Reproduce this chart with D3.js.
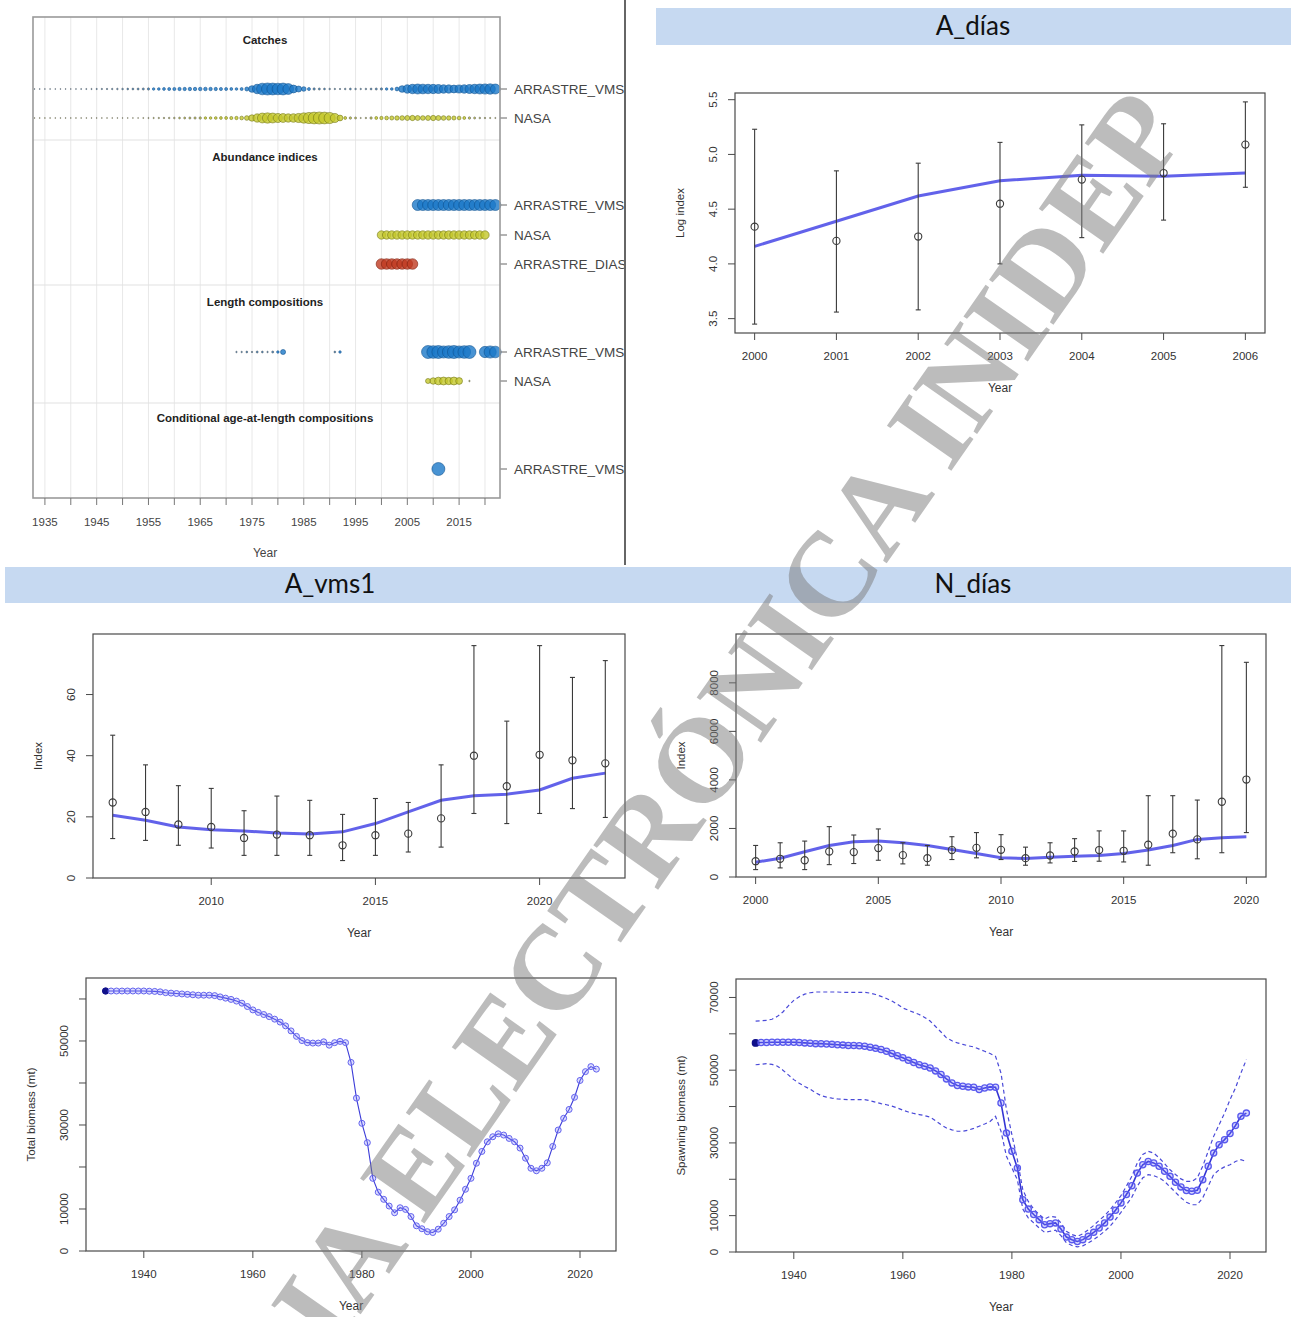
<!DOCTYPE html>
<html><head><meta charset="utf-8">
<script src="https://cdn.jsdelivr.net/npm/d3@7"></script>
<style>body{margin:0;background:#fff}svg{display:block}</style>
</head><body>
<script>
// ---------------- data ----------------
const fleetNames = ["ARRASTRE_VMS", "NASA", "ARRASTRE_DIAS"];
const fleetFill = ["#1a78c8", "#c4c82a", "#bf3a20"];
const fleetStroke = ["#0e4f8c", "#6e7212", "#7a1d0c"];

// catches by year (t)
const catchYears = d3.range(1933, 2023);
const catchVMS = [5,8,10,12,15,20,25,
  40,50,60,70,80,90,100,110,120,140,
  160,180,200,230,260,300,350,400,450,500,
  550,600,600,650,650,700,700,650,600,550,
  500,450,400,500,900,2500,5000,7500,8000,7800,
  7500,7800,6500,3500,2000,1200,500,300,250,200,
  150,120,100,150,200,150,120,150,200,250,
  300,350,400,800,2500,4000,5000,5500,5200,5000,
  4800,4500,4000,3800,3500,3600,4000,4500,5000,5500,
  5800,6000,5500];
const catchNASA = [2,2,3,3,3,4,4,
  5,5,6,6,7,8,8,10,10,12,
  15,20,25,30,40,50,60,70,80,90,
  100,120,140,160,180,200,220,240,260,280,
  300,350,400,500,800,1500,2500,3500,3800,3500,
  3000,2800,2500,2600,3000,3800,4500,5000,5200,5000,
  4500,3000,1200,300,200,150,50,80,200,300,
  400,500,600,700,800,900,1000,900,800,900,
  1000,900,800,700,600,500,300,200,150,100,
  80,60,50];

// years with abundance indices per fleet
const indexYearsVMS = d3.range(2007, 2023);
const indexYearsNASA = d3.range(2000, 2021);
const indexYearsDIAS = d3.range(2000, 2007);

// length compositions (sample sizes)
const lenYearsVMS = [1972,1973,1974,1975,1976,1977,1978,1979,1980,1981,1991,1992,
  2009,2010,2011,2012,2013,2014,2015,2016,2017,2020,2021,2022];
const lenNVMS = [5,5,8,5,10,8,5,10,15,60,8,15,
  400,380,400,350,380,400,350,380,400,300,350,320];
const lenYearsNASA = [2009,2010,2011,2012,2013,2014,2015,2017];
const lenNNASA = [60,100,140,150,130,150,110,5];

// conditional age-at-length
const caalYearsVMS = [2011];
const caalNVMS = [400];

// A_días (log index)
const adYears = d3.range(2000, 2007);
const adObs = [4.34, 4.21, 4.25, 4.55, 4.77, 4.83, 5.09];
const adLo  = [3.45, 3.56, 3.58, 4.00, 4.24, 4.40, 4.70];
const adHi  = [5.23, 4.85, 4.92, 5.11, 5.27, 5.28, 5.48];
const adFit = [4.16, 4.39, 4.62, 4.76, 4.81, 4.80, 4.83];

// A_vms1
const avYears = d3.range(2007, 2023);
const avObs = [24.7,21.6,17.5,16.7,13.1,14.2,14.0,10.7,14.0,14.5,19.5,40.0,30.0,40.3,38.5,37.5];
const avLo  = [12.9,12.3,10.7,9.8,7.4,7.4,7.4,5.7,7.4,8.5,10.1,21.1,17.8,21.1,22.7,19.8];
const avHi  = [46.7,37.0,30.2,29.3,22.0,26.8,25.4,20.8,26.0,24.7,37.0,76.0,51.3,76.0,65.6,71.1];
const avFit = [20.5,18.9,16.7,15.8,15.4,14.7,14.4,15.1,17.8,21.6,25.4,26.9,27.4,28.8,32.6,34.3];

// N_días
const ndYears = d3.range(2000, 2021);
const ndObs = [650,750,690,1050,1025,1190,900,775,1110,1200,1120,775,885,1050,1110,1080,1330,1785,1550,3100,4015];
const ndLo  = [305,375,305,510,555,690,540,485,720,790,720,485,580,640,650,620,485,1000,750,1000,1830];
const ndHi  = [1300,1410,1480,2075,1730,1980,1410,1300,1660,1830,1745,1230,1410,1580,1900,1900,3350,3350,3170,9535,8845];
const ndFit = [610,775,1040,1300,1450,1480,1410,1300,1135,970,790,760,815,860,885,970,1110,1300,1550,1620,1660];

// biomass time series 1933-2023 (mt)
const bYears = d3.range(1933, 2024);
const totalBio = [61900,61900,61900,61900,61900,61900,61900,
  61900,61850,61800,61700,61500,61400,61300,61200,61100,61000,
  60900,60900,60900,60800,60500,60200,59900,59500,59000,58200,
  57400,56800,56300,55800,55200,54500,53600,52400,51100,50100,
  49600,49500,49500,49800,49000,49600,49900,49600,44900,36400,
  30400,25800,17300,14000,12300,10700,9100,10300,9900,8200,
  6000,5300,4600,4400,5200,6600,8200,9800,12100,14700,
  17300,20900,23700,26000,27200,27900,27600,26800,26000,24500,
  22100,19700,19100,19700,21000,24900,28800,31600,33700,36600,
  40600,42700,43900,43300];
const ssb = [57500,57600,57600,57700,57700,57700,57700,
  57700,57600,57500,57400,57300,57300,57200,57100,57000,56900,
  56800,56800,56700,56600,56300,56000,55700,55200,54600,54000,
  53400,52700,52100,51500,51100,50600,49800,48800,47600,46500,
  45800,45600,45400,45300,44700,45100,45400,45300,41000,32700,
  27700,23100,14400,11800,10300,8900,7500,7800,8000,6300,
  4100,3400,2900,3400,4300,5400,6600,8000,9600,11500,
  13500,15800,18200,21700,24000,24900,24500,23600,22200,20800,
  19200,17900,16900,16700,17000,19900,23600,27200,29500,30900,
  32600,34800,37300,38200];
const ssbHi = [63500,63600,63700,64000,64800,66000,67700,
  69200,70200,70900,71300,71500,71500,71500,71500,71500,71400,
  71400,71400,71400,71400,71200,70800,70300,69700,69000,68100,
  67100,66500,65900,65300,64500,63500,62000,60500,58900,58100,
  57500,57100,56700,56400,55800,55200,54600,53800,49200,39200,
  32300,25400,17100,13900,11800,10300,9100,9800,9600,8000,
  5700,4800,4300,5000,6100,7300,8700,10000,11600,13500,
  15500,18100,20800,24500,26800,27700,27200,25900,24300,22600,
  21300,20100,19400,19400,20400,23600,27700,31800,35000,38200,
  41900,45100,49200,52900];
const ssbLo = [51500,51600,51800,51600,51100,50000,48700,
  47400,46400,45500,44800,43800,43000,42600,42300,42100,42000,
  41900,41900,41900,41900,41600,41200,40800,40500,40100,39600,
  39000,38500,38100,37800,37500,37100,36100,35000,34100,33600,
  33200,33200,33500,34000,34600,35200,35900,37300,33200,26300,
  23100,19900,11800,9400,8000,6600,5400,5700,6000,4500,
  2500,1800,1400,1700,2500,3400,4500,5700,7100,8900,
  10900,13000,15100,18100,20400,21300,21000,20400,19400,17900,
  16400,14900,13700,13000,13000,14900,18100,21300,22600,23400,
  24000,24900,25400,24900];

// ---------------- drawing ----------------
const W = 1291, H = 1317;
const FONT = "'Liberation Sans', Arial, sans-serif";
const svg = d3.select("body").append("svg")
  .attr("width", W).attr("height", H)
  .style("font-family", FONT);
svg.append("rect").attr("width", W).attr("height", H).attr("fill", "#fff");

// section header bars
const headerFill = "#c6d9f1";
svg.append("rect").attr("x", 656).attr("y", 8).attr("width", 635).attr("height", 37).attr("fill", headerFill);
svg.append("rect").attr("x", 5).attr("y", 567).attr("width", 1286).attr("height", 36).attr("fill", headerFill);
const headers = [{t: "A_días", x: 973, y: 35}, {t: "A_vms1", x: 330, y: 593}, {t: "N_días", x: 973, y: 593}];
svg.selectAll("text.hdr").data(headers).join("text").attr("class", "hdr")
  .attr("x", d => d.x).attr("y", d => d.y).attr("text-anchor", "middle")
  .style("font-family", "Lato, 'Open Sans', sans-serif").style("font-size", "26px").attr("fill", "#111")
  .text(d => d.t);

// vertical divider of the top row
svg.append("line").attr("x1", 625).attr("x2", 625).attr("y1", 0).attr("y2", 565)
  .attr("stroke", "#333").attr("stroke-width", 1.5);

// ======== data availability panel ========
(function dataPanel() {
  const g = svg.append("g");
  const x = d3.scaleLinear().domain([1932.7, 2022.9]).range([33, 500]);
  const top = 17, bottom = 498;
  const clip = svg.append("clipPath").attr("id", "leftclip");
  clip.append("rect").attr("x", 0).attr("y", 0).attr("width", 624).attr("height", 565);
  g.attr("clip-path", "url(#leftclip)");

  const gridYears = d3.range(1935, 2021, 5);
  g.selectAll("line.vg").data(gridYears).join("line")
    .attr("x1", d => x(d)).attr("x2", d => x(d)).attr("y1", top).attr("y2", bottom)
    .attr("stroke", "#e8e8e8").attr("stroke-width", 1);
  [140, 285, 403].forEach(yy => g.append("line").attr("x1", 33).attr("x2", 500)
    .attr("y1", yy).attr("y2", yy).attr("stroke", "#e2e2e2").attr("stroke-width", 1.2));

  const titles = [{t: "Catches", y: 44}, {t: "Abundance indices", y: 161},
    {t: "Length compositions", y: 306}, {t: "Conditional age-at-length compositions", y: 422}];
  g.selectAll("text.st").data(titles).join("text")
    .attr("x", 265).attr("y", d => d.y).attr("text-anchor", "middle")
    .style("font-size", "11.5px").style("font-weight", "bold").attr("fill", "#222").text(d => d.t);

  const rows = [
    {fleet: 0, y: 89, years: catchYears, vals: catchVMS, kind: "catch"},
    {fleet: 1, y: 118, years: catchYears, vals: catchNASA, kind: "catch"},
    {fleet: 0, y: 205, years: indexYearsVMS, vals: null, r: 5.5, kind: "index"},
    {fleet: 1, y: 235, years: indexYearsNASA, vals: null, r: 4.2, kind: "index"},
    {fleet: 2, y: 264, years: indexYearsDIAS, vals: null, r: 5.3, kind: "index"},
    {fleet: 0, y: 352, years: lenYearsVMS, vals: lenNVMS, kind: "comp"},
    {fleet: 1, y: 381, years: lenYearsNASA, vals: lenNNASA, kind: "comp"},
    {fleet: 0, y: 469, years: caalYearsVMS, vals: caalNVMS, kind: "comp"}
  ];
  const compR = d3.scaleSqrt().domain([0, 400]).range([0, 6.5]);
  rows.forEach(row => {
    let rfun;
    if (row.kind === "catch") {
      const s = d3.scaleSqrt().domain([0, d3.max(row.vals)]).range([0, 6]);
      rfun = i => Math.max(0.45, s(row.vals[i]));
    } else if (row.kind === "index") {
      rfun = () => row.r;
    } else {
      rfun = i => Math.max(0.7, compR(row.vals[i]));
    }
    g.append("g").selectAll("circle").data(row.years).join("circle")
      .attr("cx", d => x(d)).attr("cy", row.y).attr("r", (d, i) => rfun(i))
      .attr("fill", fleetFill[row.fleet]).attr("fill-opacity", 0.8)
      .attr("stroke", (d, i) => rfun(i) < 1.2 ? "#555" : fleetStroke[row.fleet])
      .attr("stroke-width", 0.8).attr("stroke-opacity", 0.7);
    g.append("line").attr("x1", 500).attr("x2", 507).attr("y1", row.y).attr("y2", row.y)
      .attr("stroke", "#666");
    g.append("text").attr("x", 514).attr("y", row.y + 4.5)
      .style("font-size", "13.5px").attr("fill", "#444").text(fleetNames[row.fleet]);
  });

  g.append("rect").attr("x", 33).attr("y", top).attr("width", 467).attr("height", bottom - top)
    .attr("fill", "none").attr("stroke", "#9a9a9a").attr("stroke-width", 1.6);
  g.selectAll("line.xt").data(gridYears).join("line")
    .attr("x1", d => x(d)).attr("x2", d => x(d)).attr("y1", bottom).attr("y2", bottom + 7)
    .attr("stroke", "#777");
  g.selectAll("text.xl").data(d3.range(1935, 2016, 10)).join("text")
    .attr("x", d => x(d)).attr("y", 526).attr("text-anchor", "middle")
    .style("font-size", "11.5px").attr("fill", "#444").text(d => d);
  g.append("text").attr("x", 265).attr("y", 557).attr("text-anchor", "middle")
    .style("font-size", "12px").attr("fill", "#444").text("Year");
})();

// ======== generic R-style frame ========
function frame(g, x, y, o) {
  const [x0, x1] = x.range(), [y0, y1] = y.range(); // y0 = bottom
  g.append("rect").attr("x", x0).attr("y", y1).attr("width", x1 - x0).attr("height", y0 - y1)
    .attr("fill", "none").attr("stroke", "#4a4a4a").attr("stroke-width", 1.2);
  g.selectAll("line.xt").data(o.xTicks).join("line")
    .attr("x1", d => x(d)).attr("x2", d => x(d)).attr("y1", y0).attr("y2", y0 + 7)
    .attr("stroke", "#4a4a4a");
  g.selectAll("text.xl").data(o.xTicks).join("text")
    .attr("x", d => x(d)).attr("y", y0 + 27).attr("text-anchor", "middle")
    .style("font-size", "11.5px").attr("fill", "#333").text(d => d);
  g.selectAll("line.yt").data(o.yTicks).join("line")
    .attr("x1", x0 - 7).attr("x2", x0).attr("y1", d => y(d)).attr("y2", d => y(d))
    .attr("stroke", "#4a4a4a");
  g.selectAll("text.yl").data(o.yLabels).join("text")
    .attr("transform", d => `translate(${x0 - 18},${y(d)}) rotate(-90)`)
    .attr("text-anchor", "middle").style("font-size", "11.5px").attr("fill", "#333")
    .text(d => o.yFmt ? o.yFmt(d) : d);
  g.append("text").attr("x", (x0 + x1) / 2).attr("y", y0 + 59).attr("text-anchor", "middle")
    .style("font-size", "12px").attr("fill", "#333").text("Year");
  g.append("text").attr("transform", `translate(${x0 - 51},${(y0 + y1) / 2}) rotate(-90)`)
    .attr("text-anchor", "middle").style("font-size", "11.5px").attr("fill", "#333").text(o.yTitle);
}

function indexPlot(g, x, y, years, obs, lo, hi, fit) {
  g.append("path").datum(years.map((d, i) => [d, fit[i]]))
    .attr("d", d3.line().x(d => x(d[0])).y(d => y(d[1])))
    .attr("fill", "none").attr("stroke", "#4646e6").attr("stroke-width", 3).attr("stroke-opacity", 0.85);
  const eb = g.append("g").attr("stroke", "#3a3a3a").attr("stroke-width", 1.1);
  years.forEach((yr, i) => {
    eb.append("line").attr("x1", x(yr)).attr("x2", x(yr)).attr("y1", y(lo[i])).attr("y2", y(hi[i]));
    eb.append("line").attr("x1", x(yr) - 2.5).attr("x2", x(yr) + 2.5).attr("y1", y(lo[i])).attr("y2", y(lo[i]));
    eb.append("line").attr("x1", x(yr) - 2.5).attr("x2", x(yr) + 2.5).attr("y1", y(hi[i])).attr("y2", y(hi[i]));
  });
  g.append("g").selectAll("circle").data(years).join("circle")
    .attr("cx", d => x(d)).attr("cy", (d, i) => y(obs[i])).attr("r", 3.6)
    .attr("fill", "none").attr("stroke", "#3a3a3a").attr("stroke-width", 1.1);
}

// ======== A_días ========
(function () {
  const g = svg.append("g");
  const lo = d3.min(adLo), hi = d3.max(adHi), pad = (hi - lo) * 0.04;
  const x = d3.scaleLinear().domain([2000 - 0.24, 2006 + 0.24]).range([735, 1265]);
  const y = d3.scaleLinear().domain([lo - pad, hi + pad]).range([333, 93]);
  const yt = [3.5, 4.0, 4.5, 5.0, 5.5];
  frame(g, x, y, {xTicks: adYears, yTicks: yt, yLabels: yt, yFmt: d3.format(".1f"), yTitle: "Log index"});
  indexPlot(g, x, y, adYears, adObs, adLo, adHi, adFit);
})();

// ======== A_vms1 ========
(function () {
  const g = svg.append("g");
  const x = d3.scaleLinear().domain([2007 - 0.6, 2022 + 0.6]).range([93, 625]);
  const y = d3.scaleLinear().domain([0, d3.max(avHi) * 1.05]).range([878, 634]);
  const yt = [0, 20, 40, 60];
  frame(g, x, y, {xTicks: [2010, 2015, 2020], yTicks: yt, yLabels: yt, yTitle: "Index"});
  indexPlot(g, x, y, avYears, avObs, avLo, avHi, avFit);
})();

// ======== N_días ========
(function () {
  const g = svg.append("g");
  const x = d3.scaleLinear().domain([2000 - 0.8, 2020 + 0.8]).range([736, 1266]);
  const y = d3.scaleLinear().domain([0, d3.max(ndHi) * 1.05]).range([877, 634]);
  const yt = [0, 2000, 4000, 6000, 8000];
  frame(g, x, y, {xTicks: [2000, 2005, 2010, 2015, 2020], yTicks: yt, yLabels: yt, yTitle: "Index"});
  indexPlot(g, x, y, ndYears, ndObs, ndLo, ndHi, ndFit);
})();

// ======== Total biomass ========
(function () {
  const g = svg.append("g");
  const x = d3.scaleLinear().domain([1933 - 3.6, 2023 + 3.6]).range([86, 616]);
  const y = d3.scaleLinear().domain([0, d3.max(totalBio) * 1.05]).range([1251, 978]);
  frame(g, x, y, {xTicks: [1940, 1960, 1980, 2000, 2020],
    yTicks: [0, 10000, 20000, 30000, 40000, 50000, 60000], yLabels: [0, 10000, 30000, 50000],
    yTitle: "Total biomass (mt)"});
  g.append("path").datum(bYears.map((d, i) => [d, totalBio[i]]))
    .attr("d", d3.line().x(d => x(d[0])).y(d => y(d[1])))
    .attr("fill", "none").attr("stroke", "#3c3cd8").attr("stroke-width", 1.1);
  g.append("g").selectAll("circle").data(bYears).join("circle")
    .attr("cx", d => x(d)).attr("cy", (d, i) => y(totalBio[i])).attr("r", (d, i) => i === 0 ? 3.2 : 3)
    .attr("fill", (d, i) => i === 0 ? "#10108a" : "rgba(140,140,255,0.3)")
    .attr("stroke", (d, i) => i === 0 ? "#10108a" : "#6464ee").attr("stroke-width", 1);
})();

// ======== Spawning biomass ========
(function () {
  const g = svg.append("g");
  const x = d3.scaleLinear().domain([1933 - 3.6, 2023 + 3.6]).range([736, 1266]);
  const y = d3.scaleLinear().domain([0, d3.max(ssbHi) * 1.05]).range([1252, 979]);
  frame(g, x, y, {xTicks: [1940, 1960, 1980, 2000, 2020],
    yTicks: [0, 10000, 20000, 30000, 40000, 50000, 60000, 70000], yLabels: [0, 10000, 30000, 50000, 70000],
    yTitle: "Spawning biomass (mt)"});
  const line = d3.line().x(d => x(d[0])).y(d => y(d[1]));
  [ssbHi, ssbLo].forEach(arr => g.append("path").datum(bYears.map((d, i) => [d, arr[i]]))
    .attr("d", line).attr("fill", "none").attr("stroke", "#4a4ad8").attr("stroke-width", 1.2)
    .attr("stroke-dasharray", "4,3"));
  g.append("path").datum(bYears.map((d, i) => [d, ssb[i]]))
    .attr("d", line).attr("fill", "none").attr("stroke", "#3434d4").attr("stroke-width", 1.6);
  g.append("g").selectAll("circle").data(bYears).join("circle")
    .attr("cx", d => x(d)).attr("cy", (d, i) => y(ssb[i])).attr("r", (d, i) => i === 0 ? 3.3 : 3.1)
    .attr("fill", (d, i) => i === 0 ? "#10108a" : "rgba(120,120,255,0.3)")
    .attr("stroke", (d, i) => i === 0 ? "#10108a" : "#5a5aee").attr("stroke-width", 1.3);
})();

// ======== diagonal stamp ========
svg.append("text")
  .attr("transform", "translate(1190,130) rotate(-55)")
  .attr("text-anchor", "end")
  .style("font-family", "'Liberation Serif', 'DejaVu Serif', serif")
  .style("font-weight", "bold").style("font-size", "120px")
  .attr("fill", "#7a7a7a").attr("fill-opacity", 0.5)
  .text("COPIA ELECTRÓNICA INIDEP");
</script>
</body></html>
